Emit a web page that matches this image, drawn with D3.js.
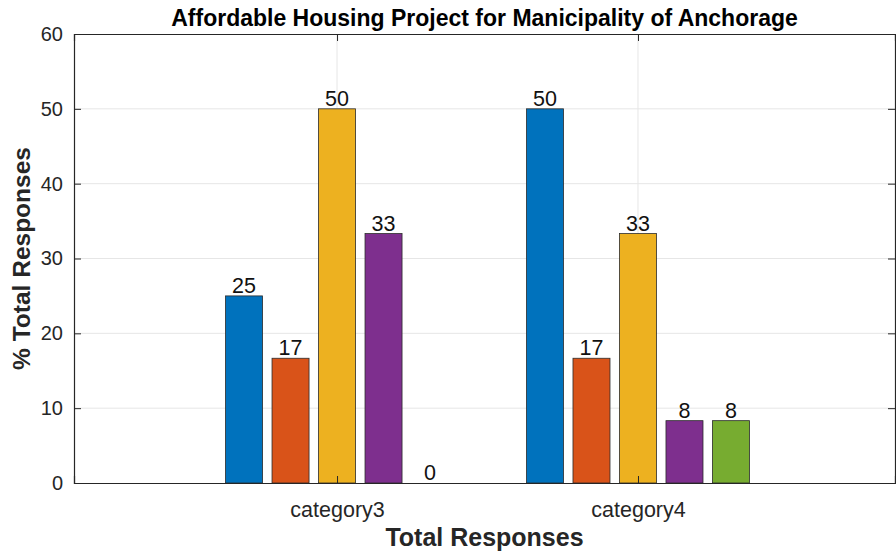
<!DOCTYPE html>
<meta charset="utf-8">
<script src="https://d3js.org/d3.v7.min.js"></script>
<style>
  body { margin: 0; background: #fff; }
  text { font-family: "Liberation Sans", Arial, sans-serif; }
</style>
<div id="chart"></div>
<script>
// data
var categories = ["category3", "category4"];
var catPositions = [3, 4];
var series = ["s1", "s2", "s3", "s4", "s5"];
var values = [
  [25, 16.67, 50, 33.33, 0],
  [50, 16.67, 33.33, 8.33, 8.33]
];
var colors = ["#0072BD", "#D95319", "#EDB120", "#7E2F8E", "#77AC30"];
var yTicks = [0, 10, 20, 30, 40, 50, 60];

var W = 896, H = 554;
var margin = {top: 34, right: 1, bottom: 71, left: 74};
var width = W - margin.left - margin.right,
    height = H - margin.top - margin.bottom;

var svg = d3.select("#chart").append("svg")
    .attr("width", W).attr("height", H);
var g = svg.append("g")
    .attr("transform", "translate(" + margin.left + "," + margin.top + ")");

var x = d3.scaleLinear().domain([2.126, 4.854]).range([0, width]);
var y = d3.scaleLinear().domain([0, 60]).range([height, 0]);

// grid
g.selectAll(".hgrid").data(yTicks.slice(1, -1)).enter().append("line")
  .attr("x1", 0).attr("x2", width)
  .attr("y1", d => y(d)).attr("y2", d => y(d))
  .attr("stroke", "#e6e6e6").attr("stroke-width", 1);
g.selectAll(".vgrid").data(catPositions).enter().append("line")
  .attr("x1", d => x(d)).attr("x2", d => x(d))
  .attr("y1", 0).attr("y2", height)
  .attr("stroke", "#e6e6e6").attr("stroke-width", 1);

// bars
var step = 0.1545, barW = 0.123;
var rows = [];
values.forEach(function(vals, i) {
  vals.forEach(function(v, j) {
    rows.push({cat: catPositions[i], s: j, v: v});
  });
});
g.selectAll("rect.bar").data(rows).enter().append("rect")
  .attr("class", "bar")
  .attr("x", d => x(d.cat + (d.s - 2) * step - barW / 2))
  .attr("width", x(barW) - x(0))
  .attr("y", d => y(d.v))
  .attr("height", d => height - y(d.v))
  .attr("fill", d => colors[d.s])
  .attr("stroke", "#2b2b2b").attr("stroke-width", 0.8);

g.selectAll("text.val").data(rows).enter().append("text")
  .attr("x", d => x(d.cat + (d.s - 2) * step))
  .attr("y", d => y(d.v) - 3)
  .attr("text-anchor", "middle")
  .attr("font-size", 21.5).attr("fill", "#111")
  .text(d => Math.round(d.v));

// axes
var axisColor = "#262626";
var yAxisL = g.append("g").call(d3.axisLeft(y).tickValues(yTicks).tickSize(-7).tickPadding(11));
var yAxisR = g.append("g").attr("transform", "translate(" + width + ",0)")
  .call(d3.axisRight(y).tickValues(yTicks).tickSize(-7).tickFormat(""));
var xAxisB = g.append("g").attr("transform", "translate(0," + height + ")")
  .call(d3.axisBottom(x).tickValues(catPositions).tickSize(-7).tickPadding(19)
    .tickFormat((d, i) => categories[i]));
var xAxisT = g.append("g")
  .call(d3.axisTop(x).tickValues(catPositions).tickSize(-7).tickFormat(""));

[yAxisL, yAxisR, xAxisB, xAxisT].forEach(function(a) {
  a.select(".domain").attr("stroke", axisColor).attr("stroke-width", 1.2);
  a.selectAll(".tick line").attr("stroke", axisColor);
  a.selectAll(".tick text").attr("fill", axisColor)
    .style("font-family", "'Liberation Sans', Arial, sans-serif");
});
yAxisL.selectAll(".tick text").attr("font-size", 20);
xAxisB.selectAll(".tick text").attr("font-size", 21.5);

// labels
svg.append("text")
  .attr("x", margin.left + width / 2).attr("y", 26)
  .attr("text-anchor", "middle")
  .attr("font-size", 23).attr("font-weight", "bold").attr("fill", "#000")
  .text("Affordable Housing Project for Manicipality of Anchorage");

svg.append("text")
  .attr("x", margin.left + width / 2).attr("y", 546)
  .attr("text-anchor", "middle")
  .attr("font-size", 25).attr("font-weight", "bold").attr("fill", "#262626")
  .text("Total Responses");

svg.append("text")
  .attr("transform", "translate(30," + (margin.top + height / 2) + ") rotate(-90)")
  .attr("text-anchor", "middle")
  .attr("font-size", 24.5).attr("font-weight", "bold").attr("fill", "#262626")
  .text("% Total Responses");
</script>
